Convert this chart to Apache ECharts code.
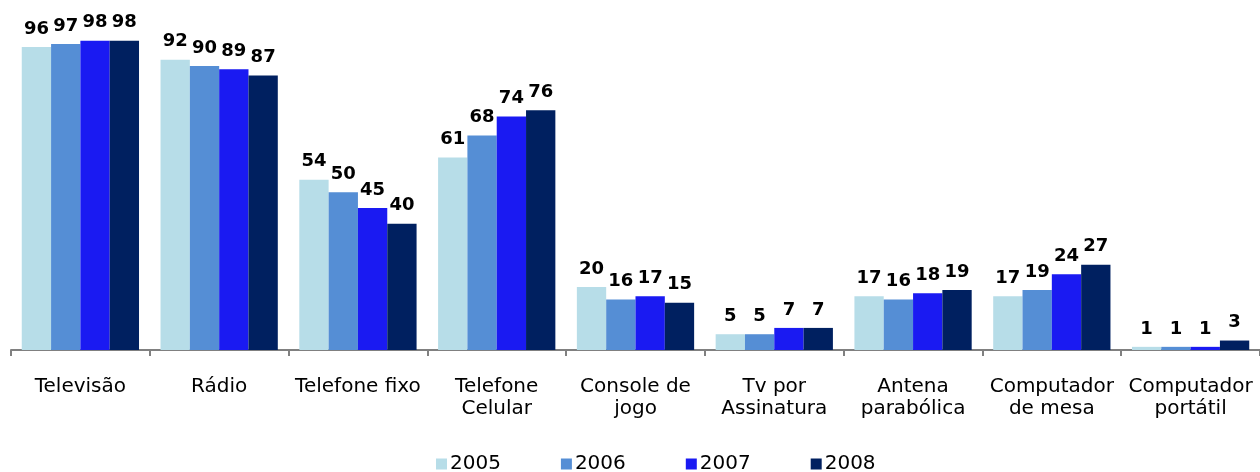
<!DOCTYPE html>
<html>
<head>
<meta charset="utf-8">
<script src="https://cdn.jsdelivr.net/npm/echarts@6/dist/echarts.min.js"></script>
<style>
  html, body { margin: 0; padding: 0; background: #fff; }
  #chart { width: 1260px; height: 472px; }
</style>
</head>
<body>
<div id="chart"></div>
<script>
var categories = ['Televisão', 'Rádio', 'Telefone fixo', 'Telefone\nCelular', 'Console de\njogo',
  'Tv por\nAssinatura', 'Antena\nparabólica', 'Computador\nde mesa', 'Computador\nportátil'];
var years = ['2005', '2006', '2007', '2008'];
var values2005 = [96, 92, 54, 61, 20, 5, 17, 17, 1];
var values2006 = [97, 90, 50, 68, 16, 5, 16, 19, 1];
var values2007 = [98, 89, 45, 74, 17, 7, 18, 24, 1];
var values2008 = [98, 87, 40, 76, 15, 7, 19, 27, 3];
var colors = ['#B7DDE8', '#558ED5', '#1A1AF2', '#002060'];

var chart = echarts.init(document.getElementById('chart'));

var font = '"DejaVu Sans", sans-serif';
var allValues = [values2005, values2006, values2007, values2008];

var series = [];
for (var i = 0; i < years.length; i++) {
  series.push({
    name: years[i],
    type: 'bar',
    data: allValues[i],
    barGap: '0%',
    barCategoryGap: '15.5%',
    itemStyle: { color: colors[i] },
    label: {
      show: true,
      position: 'top',
      distance: 9,
      color: '#000',
      fontFamily: font,
      fontWeight: 'bold',
      fontSize: 18
    }
  });
}

var option = {
  animation: false,
  color: colors,
  legend: {
    bottom: -7,
    left: 431,
    itemWidth: 11,
    itemHeight: 11,
    itemGap: 60,
    icon: 'rect',
    textStyle: { fontFamily: font, fontSize: 20, color: '#000', padding: [0, 0, 0, -2] },
    data: years
  },
  grid: { left: 11, right: -8, top: 34.5, bottom: 122, containLabel: false },
  xAxis: {
    type: 'category',
    data: categories,
    axisLine: { lineStyle: { color: '#808080', width: 2 } },
    axisTick: { show: true, length: 6, lineStyle: { color: '#808080', width: 2 } },
    axisLabel: {
      interval: 0,
      margin: 26,
      fontFamily: font,
      fontSize: 20,
      lineHeight: 22,
      color: '#000'
    }
  },
  yAxis: {
    type: 'value',
    min: 0,
    max: 100,
    show: false
  },
  series: series
};

chart.setOption(option);
</script>
</body>
</html>
